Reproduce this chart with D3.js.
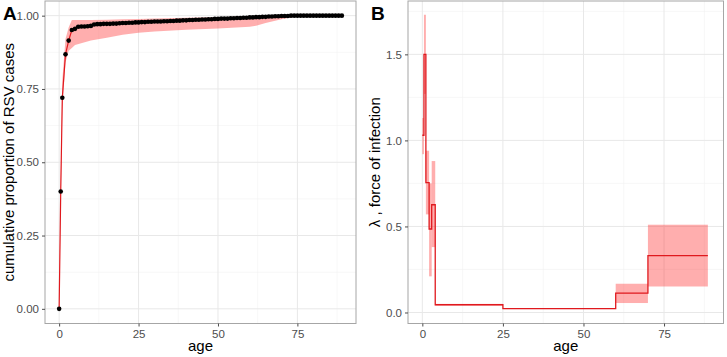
<!DOCTYPE html>
<html><head><meta charset="utf-8">
<script src="https://cdn.jsdelivr.net/npm/d3@7"></script>
<style>body{margin:0;background:#fff}svg{display:block}text{font-family:"Liberation Sans",Arial,sans-serif}</style>
</head><body><svg id="c" width="727" height="357"></svg>
<script>
// Panel A: cumulative proportion of RSV cases by age
const agesA = [0,0.5,1,2,3,4,5,6,7,8,9,10,11,12,13,14,15,16,17,18,19,20,21,22,23,24,25,26,27,28,29,30,31,32,33,34,35,36,37,38,39,40,41,42,43,44,45,46,47,48,49,50,51,52,53,54,55,56,57,58,59,60,61,62,63,64,65,66,67,68,69,70,71,72,73,74,75,76,77,78,79,80,81,82,83,84,85,86,87,88,89];
const cumProp = [0,0.40,0.72,0.868,0.915,0.951,0.955,0.962,0.963,0.963,0.964,0.965,0.970,0.971,0.971,0.972,0.972,0.972,0.973,0.973,0.974,0.975,0.975,0.976,0.976,0.977,0.977,0.978,0.978,0.979,0.979,0.980,0.980,0.980,0.981,0.981,0.982,0.982,0.983,0.983,0.984,0.984,0.985,0.985,0.986,0.986,0.987,0.987,0.988,0.988,0.989,0.989,0.990,0.990,0.990,0.991,0.991,0.992,0.992,0.993,0.993,0.994,0.994,0.995,0.995,0.996,0.996,0.997,0.997,0.998,0.998,0.999,0.999,0.999,1,1,1,1,1,1,1,1,1,1,1,1,1,1,1,1,1];
// Ribbon (model band) for panel A
const bandAges = [0,0.5,1,2,3,4,5,10,15,20,25,30,40,50,60,62,65,70,75,80,89];
const bandLow  = [0,0.36,0.68,0.84,0.88,0.89,0.90,0.915,0.925,0.935,0.942,0.946,0.952,0.956,0.962,0.966,0.975,0.988,0.998,1,1];
const bandHigh = [0,0.44,0.78,0.92,0.96,0.985,0.985,0.985,0.986,0.988,0.989,0.990,0.993,0.995,0.997,0.998,0.999,1,1,1,1];
// Panel B: force of infection, piecewise constant by age group
const segStart = [0,0.5,1.1,2.1,2.9,4,25,60,70];
const segEnd   = [0.5,1.1,2.1,2.9,4,25,60,70,88.6];
const lambda   = [1.03,1.50,0.755,0.485,0.626,0.045,0.022,0.113,0.33];
const lamLow   = [0.92,1.27,0.57,0.21,0.38,0.040,0.020,0.055,0.151];
const lamHigh  = [1.13,1.73,0.94,0.75,0.88,0.050,0.025,0.167,0.51];
const ticksAx = [0,25,50,75], ticksAy = [0,0.25,0.5,0.75,1];
const ticksBx = [0,25,50,75], ticksBy = [0,0.5,1.0,1.5];

const svg = d3.select("#c");
const RED = "#e0191e", PINK = "#ff2a2a";

function panel(x, y, xt, yt, xminor, yminor, yfmt, ylab, tag, tagX){
  const [x0,x1] = x.range(), [y0,y1] = y.range();
  const g = svg.append("g");
  g.append("rect").attr("x",x0).attr("y",y1).attr("width",x1-x0).attr("height",y0-y1).attr("fill","#fff");
  const grid = g.append("g");
  xminor.forEach(v=>grid.append("line").attr("x1",x(v)).attr("x2",x(v)).attr("y1",y1).attr("y2",y0).attr("stroke","#f2f2f2").attr("stroke-width",0.6));
  yminor.forEach(v=>grid.append("line").attr("y1",y(v)).attr("y2",y(v)).attr("x1",x0).attr("x2",x1).attr("stroke","#f2f2f2").attr("stroke-width",0.6));
  xt.forEach(v=>grid.append("line").attr("x1",x(v)).attr("x2",x(v)).attr("y1",y1).attr("y2",y0).attr("stroke","#e8e8e8").attr("stroke-width",1));
  yt.forEach(v=>grid.append("line").attr("y1",y(v)).attr("y2",y(v)).attr("x1",x0).attr("x2",x1).attr("stroke","#e8e8e8").attr("stroke-width",1));
  const content = g.append("g");
  g.append("rect").attr("x",x0).attr("y",y1).attr("width",x1-x0).attr("height",y0-y1).attr("fill","none").attr("stroke","#a6a6a6").attr("stroke-width",1);
  const ax = g.append("g").attr("transform",`translate(0,${y0})`).call(d3.axisBottom(x).tickValues(xt).tickSize(3).tickPadding(3).tickFormat(d3.format("d")));
  const ay = g.append("g").attr("transform",`translate(${x0},0)`).call(d3.axisLeft(y).tickValues(yt).tickSize(3).tickPadding(3).tickFormat(yfmt));
  [ax,ay].forEach(a=>{a.select(".domain").remove();a.selectAll(".tick line").attr("stroke","#4d4d4d");a.selectAll("text").attr("fill","#4d4d4d").style("font-size","11.5px").style("font-family","'Liberation Sans',Arial,sans-serif");});
  g.append("text").attr("x",(x0+x1)/2).attr("y",351).attr("text-anchor","middle").style("font-size","15px").text("age");
  g.append("text").attr("transform",`translate(${ylab.x},${(y0+y1)/2}) rotate(-90)`).attr("text-anchor","middle").style("font-size","15px").text(ylab.text);
  g.append("text").attr("x",tagX).attr("y",20).style("font-size","19px").style("font-weight","bold").text(tag);
  return content;
}

// Panel A
const xA = d3.scaleLinear().domain([-4.45,93.45]).range([45,356]);
const yA = d3.scaleLinear().domain([-0.05,1.05]).range([323.5,1]);
const cA = panel(xA,yA,ticksAx,ticksAy,[12.5,37.5,62.5,87.5],[0.125,0.375,0.625,0.875],d3.format(".2f"),{x:14,text:"cumulative proportion of RSV cases"},"A",3);
const band = bandAges.map((a,i)=>({a,lo:bandLow[i],hi:bandHigh[i]}));
cA.append("path").datum(band).attr("fill",PINK).attr("fill-opacity",0.38)
  .attr("d",d3.area().x(d=>xA(d.a)).y0(d=>yA(d.lo)).y1(d=>yA(d.hi)));
const ptsA = agesA.map((a,i)=>({a,v:cumProp[i]}));
cA.append("path").datum(ptsA).attr("fill","none").attr("stroke",RED).attr("stroke-width",1.2)
  .attr("d",d3.line().x(d=>xA(d.a)).y(d=>yA(d.v)));
cA.selectAll("circle").data(ptsA).join("circle").attr("cx",d=>xA(d.a)).attr("cy",d=>yA(d.v)).attr("r",2.3).attr("fill","#000");

// Panel B
const xB = d3.scaleLinear().domain([-4.45,93.45]).range([408,723.5]);
const yB = d3.scaleLinear().domain([-0.064,1.81]).range([323.5,1]);
const cB = panel(xB,yB,ticksBx,ticksBy,[12.5,37.5,62.5,87.5],[0.25,0.75,1.25,1.75],d3.format(".1f"),{x:380,text:"λ , force of infection"},"B",371);
const segs = segStart.map((s,i)=>({s,e:segEnd[i],v:lambda[i],lo:lamLow[i],hi:lamHigh[i]}));
cB.selectAll("rect.rib").data(segs).join("rect").attr("class","rib")
  .attr("x",d=>xB(d.s)).attr("width",d=>xB(d.e)-xB(d.s))
  .attr("y",d=>yB(d.hi)).attr("height",d=>yB(d.lo)-yB(d.hi))
  .attr("fill",PINK).attr("fill-opacity",0.38);
const stepPts = segs.map(d=>[d.s,d.v]).concat([[segs[segs.length-1].e,segs[segs.length-1].v]]);
cB.append("path").datum(stepPts).attr("fill","none").attr("stroke",RED).attr("stroke-width",1.3)
  .attr("d",d3.line().x(d=>xB(d[0])).y(d=>yB(d[1])).curve(d3.curveStepAfter));
</script></body></html>
